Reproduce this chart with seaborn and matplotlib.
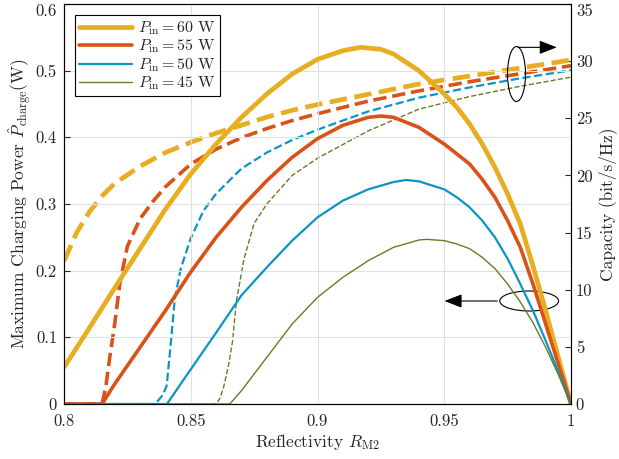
import numpy as np
import pandas as pd
import matplotlib
matplotlib.use("Agg")
import matplotlib.pyplot as plt
from matplotlib.patches import Ellipse
import seaborn as sns

# potencia maxima de carga (eixo esquerdo)
r_60 = [0.80, 0.81, 0.82, 0.83, 0.84, 0.85, 0.86, 0.87, 0.88, 0.89, 0.90, 0.91, 0.917, 0.925, 0.93, 0.94, 0.95, 0.955, 0.96, 0.965, 0.97, 0.975, 0.98, 0.985, 0.99, 0.995, 1.0]
p_60 = [0.055, 0.114, 0.174, 0.233, 0.292, 0.345, 0.39, 0.43, 0.465, 0.495, 0.517, 0.53, 0.535, 0.532, 0.525, 0.50, 0.465, 0.445, 0.42, 0.39, 0.355, 0.315, 0.27, 0.207, 0.14, 0.07, 0.0]

r_55 = [0.80, 0.815, 0.82, 0.83, 0.84, 0.85, 0.86, 0.87, 0.88, 0.89, 0.90, 0.91, 0.92, 0.925, 0.93, 0.94, 0.95, 0.96, 0.965, 0.97, 0.975, 0.98, 0.985, 0.99, 0.995, 1.0]
p_55 = [0.0, 0.0, 0.03, 0.085, 0.14, 0.198, 0.25, 0.295, 0.335, 0.37, 0.398, 0.418, 0.43, 0.432, 0.43, 0.415, 0.39, 0.36, 0.337, 0.31, 0.275, 0.235, 0.18, 0.12, 0.06, 0.0]

r_50 = [0.80, 0.8406, 0.85, 0.86, 0.87, 0.88, 0.89, 0.90, 0.91, 0.92, 0.93, 0.935, 0.94, 0.95, 0.955, 0.96, 0.965, 0.97, 0.975, 0.98, 0.985, 0.99, 0.995, 1.0]
p_50 = [0.0, 0.0, 0.052, 0.107, 0.163, 0.205, 0.245, 0.28, 0.305, 0.322, 0.333, 0.336, 0.334, 0.322, 0.31, 0.295, 0.275, 0.25, 0.218, 0.18, 0.14, 0.095, 0.048, 0.0]

r_45 = [0.80, 0.8654, 0.87, 0.88, 0.89, 0.90, 0.91, 0.92, 0.93, 0.94, 0.943, 0.95, 0.955, 0.96, 0.965, 0.97, 0.975, 0.98, 0.985, 0.99, 0.995, 1.0]
p_45 = [0.0, 0.0, 0.02, 0.07, 0.12, 0.16, 0.19, 0.215, 0.235, 0.246, 0.247, 0.245, 0.24, 0.233, 0.22, 0.203, 0.18, 0.153, 0.122, 0.085, 0.044, 0.0]

# capacidade (eixo direito)
rc_60 = [0.80, 0.805, 0.81, 0.815, 0.82, 0.83, 0.84, 0.85, 0.86, 0.87, 0.88, 0.89, 0.90, 0.92, 0.94, 0.96, 0.98, 1.0]
c_60 = [12.5, 15.0, 16.8, 18.2, 19.3, 20.8, 22.0, 22.9, 23.7, 24.4, 25.1, 25.7, 26.2, 27.1, 28.0, 28.7, 29.4, 30.1]

rc_55 = [0.80, 0.815, 0.8165, 0.818, 0.82, 0.822, 0.825, 0.83, 0.835, 0.84, 0.85, 0.86, 0.87, 0.88, 0.89, 0.90, 0.92, 0.94, 0.96, 0.98, 1.0]
c_55 = [0.0, 0.0, 1.5, 4.0, 7.0, 10.5, 13.8, 16.2, 17.7, 19.0, 21.0, 22.3, 23.3, 24.1, 24.8, 25.4, 26.5, 27.4, 28.2, 28.9, 29.6]

rc_50 = [0.80, 0.836, 0.839, 0.8405, 0.842, 0.8437, 0.846, 0.85, 0.855, 0.86, 0.87, 0.88, 0.89, 0.90, 0.92, 0.94, 0.96, 0.98, 1.0]
c_50 = [0.0, 0.0, 0.8, 1.6, 5.0, 9.2, 11.8, 14.5, 16.9, 18.4, 20.6, 22.0, 23.1, 24.0, 25.6, 26.8, 27.7, 28.5, 29.2]

rc_45 = [0.80, 0.86, 0.8615, 0.863, 0.865, 0.8665, 0.868, 0.871, 0.875, 0.88, 0.89, 0.90, 0.92, 0.94, 0.96, 0.98, 1.0]
c_45 = [0.0, 0.0, 0.5, 1.5, 3.5, 5.5, 9.0, 12.7, 15.8, 17.5, 20.0, 21.5, 23.9, 25.8, 26.9, 27.8, 28.6]

labels = ["$P_{\\mathrm{in}} = 60$ W", "$P_{\\mathrm{in}} = 55$ W",
          "$P_{\\mathrm{in}} = 50$ W", "$P_{\\mathrm{in}} = 45$ W"]
cores = ["#E8AE22", "#D95319", "#0A95C6", "#6B7B25"]
larguras = [3.4, 2.6, 1.6, 1.0]

sns.set_style("white")
plt.rcParams["font.family"] = "serif"
plt.rcParams["font.serif"] = ["cmr10"]
plt.rcParams["mathtext.fontset"] = "cm"
plt.rcParams["axes.formatter.use_mathtext"] = True
plt.rcParams["font.size"] = 12

fig = plt.figure(figsize=(6.19, 4.59), dpi=100)
ax = fig.add_axes([64/619, 1-404/459, (571-64)/619, (404-4)/459])
ax2 = ax.twinx()

solidas = [(r_60, p_60), (r_55, p_55), (r_50, p_50), (r_45, p_45)]
tracejadas = [(rc_60, c_60), (rc_55, c_55), (rc_50, c_50), (rc_45, c_45)]

for (r, p), lab, c, lw in zip(solidas, labels, cores, larguras):
    sns.lineplot(x=r, y=p, ax=ax, color=c, lw=lw, label=lab)
for (r, cap), c, lw in zip(tracejadas, cores, larguras):
    sns.lineplot(x=r, y=cap, ax=ax2, color=c, lw=lw, linestyle="--")

ax.set_xlim(0.8, 1.0)
ax.set_ylim(0, 0.6)
ax2.set_ylim(0, 35)
ax.set_xticks([0.8, 0.85, 0.9, 0.95, 1.0])
ax.set_xticklabels(["0.8", "0.85", "0.9", "0.95", "1"])
ax.set_yticks(np.arange(0, 0.61, 0.1))
ax.set_yticklabels(["0", "0.1", "0.2", "0.3", "0.4", "0.5", "0.6"])
ax2.set_yticks(range(0, 36, 5))
ax2.set_yticklabels([str(v) for v in range(0, 36, 5)])
ax.grid(True, color="#E0E0E0", lw=0.8)
ax.tick_params(direction="in", length=4, labelsize=12)
ax.tick_params(axis="x", pad=7)
ax.tick_params(axis="y", pad=5)
ax2.tick_params(direction="in", length=4, labelsize=12)
for s in ax.spines.values():
    s.set_color("black")
    s.set_linewidth(0.8)

# rotulos do topo ficam dentro da figura
ax.get_yticklabels()[-1].set_va("top")
ax2.get_yticklabels()[-1].set_va("top")

ax.set_xlabel("Reflectivity $R_{\\mathrm{M2}}$", fontsize=12.5, labelpad=2)
ax.set_ylabel("Maximum Charging Power $\\hat{P}_{\\mathrm{charge}}$(W)", fontsize=12.5, labelpad=1)
ax2.set_ylabel("Capacity (bit/s/Hz)", fontsize=12.5)

leg = ax.legend(loc="upper left", fancybox=False, edgecolor="black", framealpha=1,
                fontsize=11.5, handlelength=3.3, borderpad=0.25, labelspacing=0.05,
                handletextpad=0.4, borderaxespad=0.7)
leg.get_frame().set_linewidth(0.8)

# elipses e setas indicando os eixos
ax.add_patch(Ellipse((0.9785, 0.495), 0.0071, 0.0825, fill=False, color="black", lw=0.8))
ax.annotate("", xy=(0.9955, 0.535), xytext=(0.978, 0.535),
            arrowprops=dict(arrowstyle="-|>,head_length=0.9,head_width=0.35", color="black", lw=0.8))
ax.add_patch(Ellipse((0.9835, 0.1545), 0.0232, 0.03, fill=False, color="black", lw=0.8))
ax.annotate("", xy=(0.949, 0.1545), xytext=(0.972, 0.1545),
            arrowprops=dict(arrowstyle="-|>,head_length=0.9,head_width=0.35", color="black", lw=0.8))

ax.set_zorder(ax2.get_zorder() + 1)
ax.patch.set_visible(False)

fig.savefig("out.png", dpi=100)
